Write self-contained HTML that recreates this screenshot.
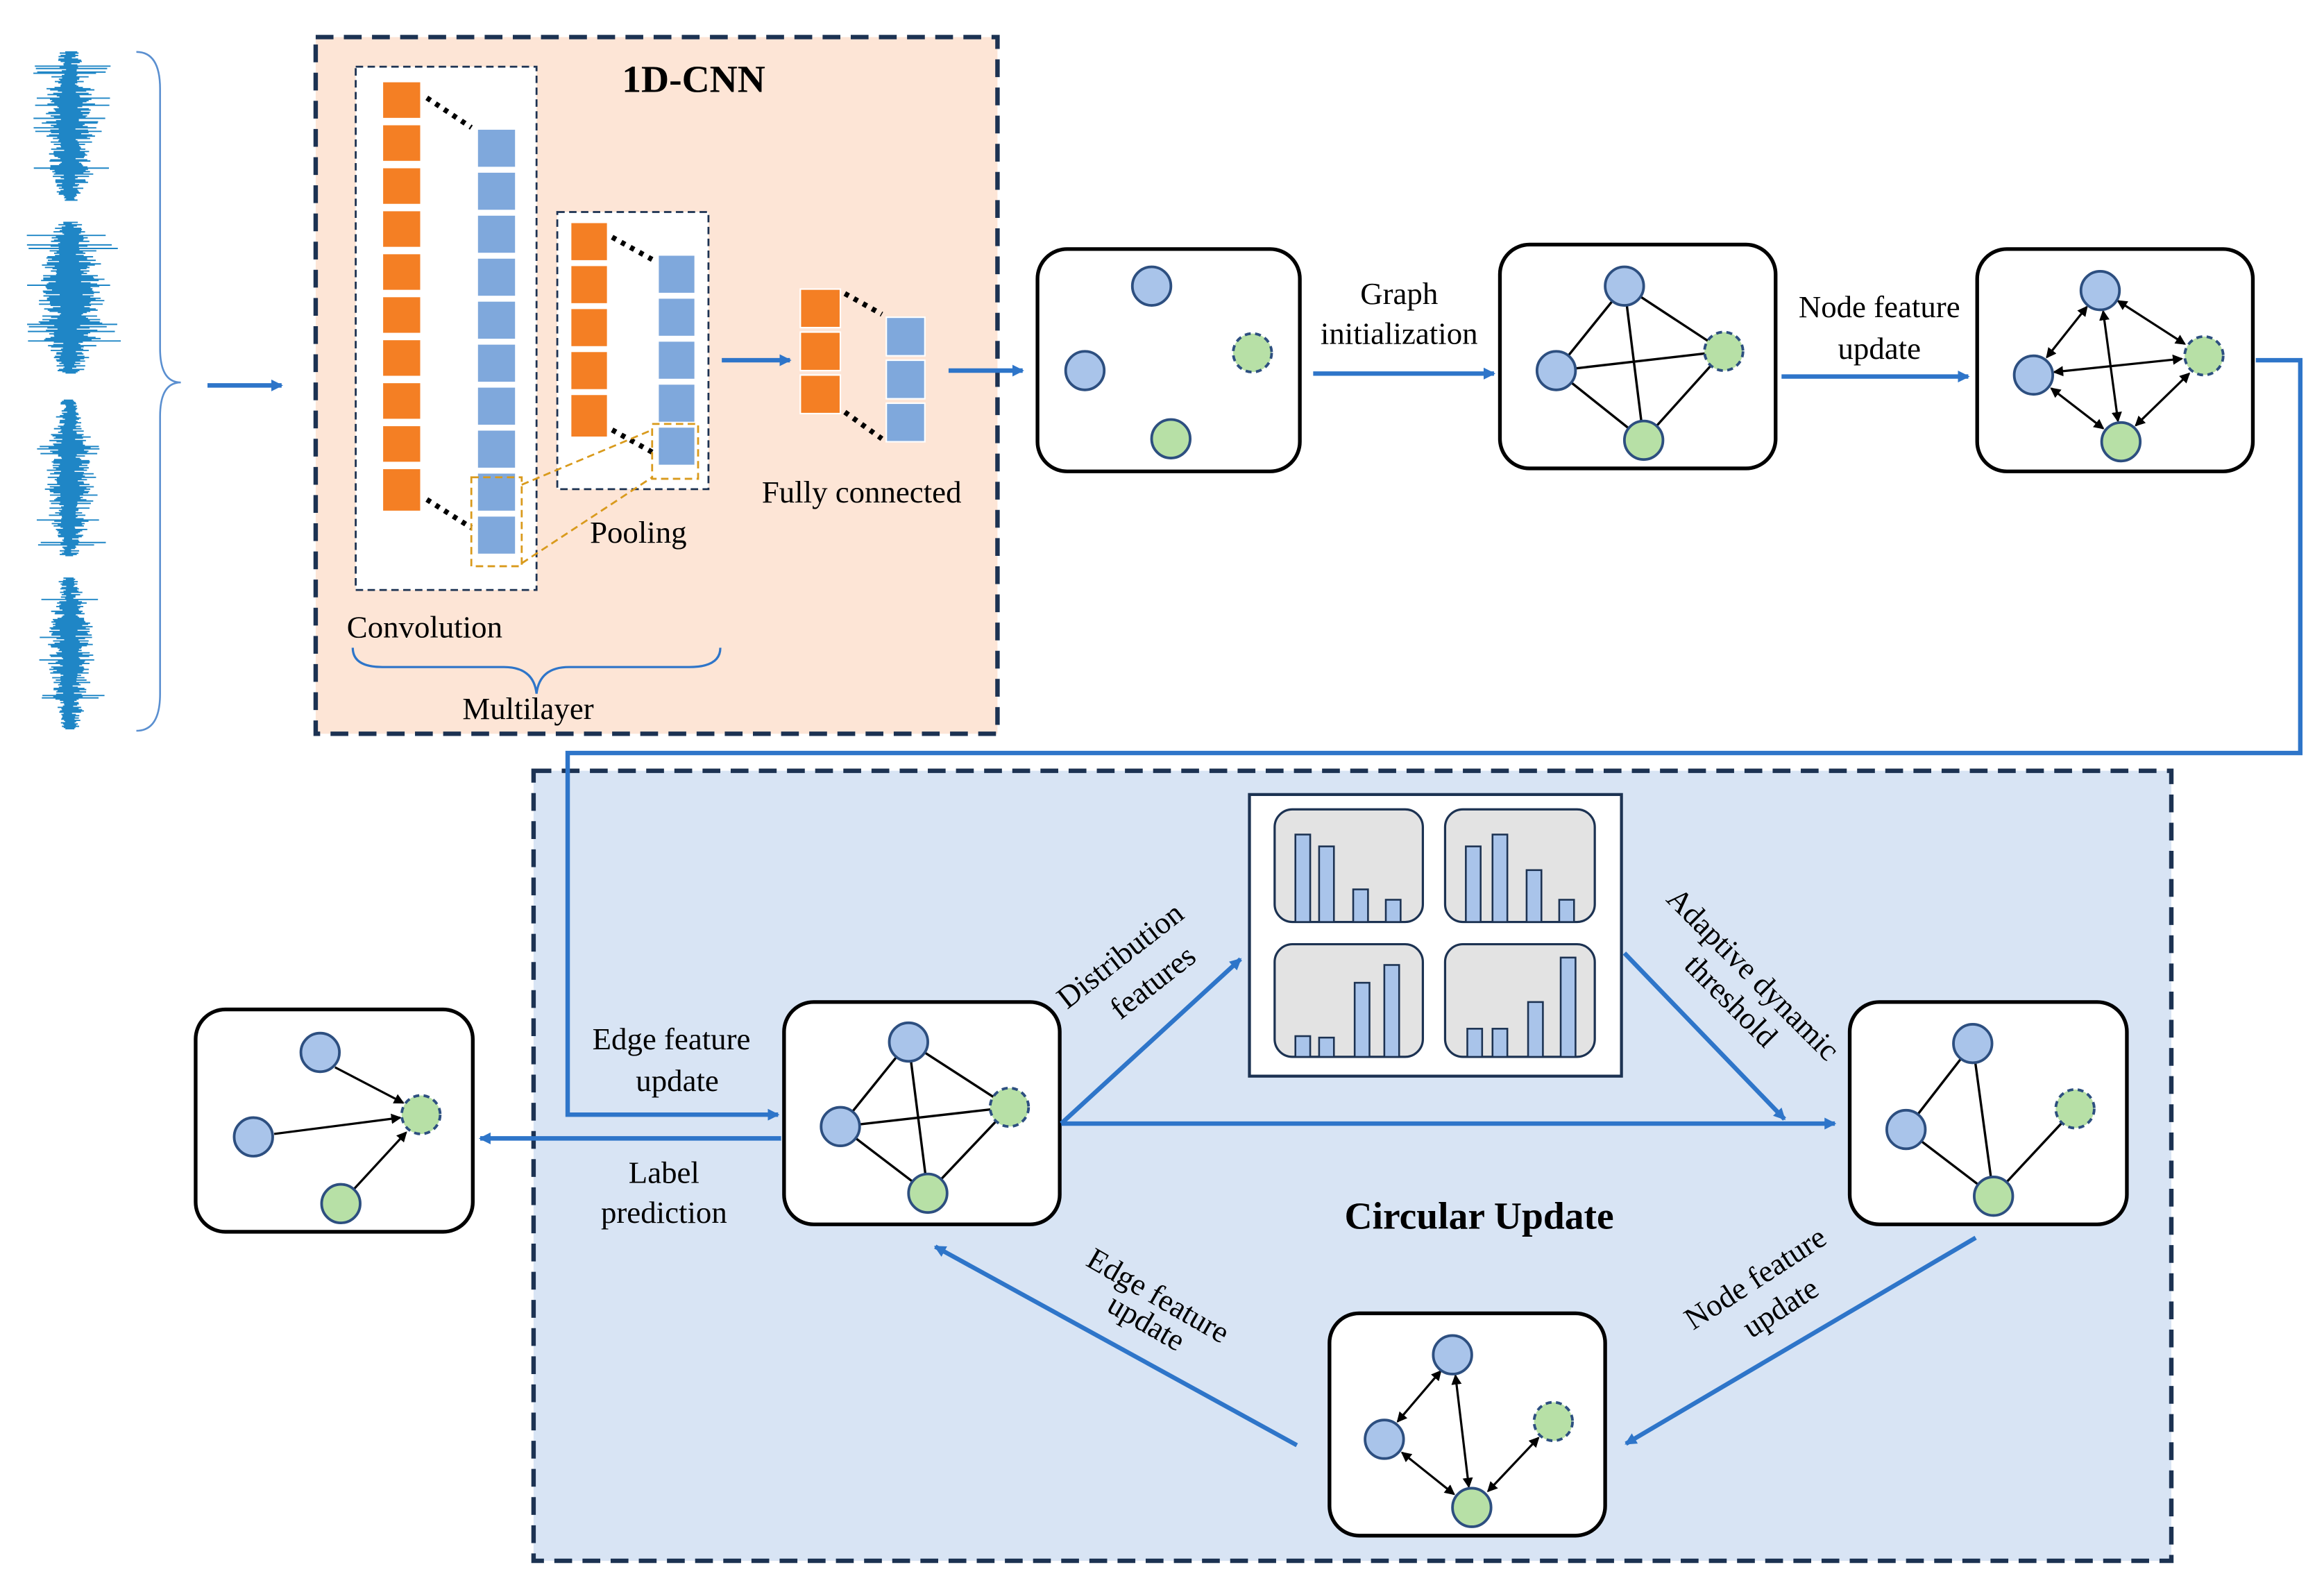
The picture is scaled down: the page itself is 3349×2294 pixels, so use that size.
<!DOCTYPE html>
<html><head><meta charset="utf-8"><style>html,body{margin:0;padding:0;background:#fff}svg{display:block}text{font-family:"Liberation Serif",serif}</style></head><body>
<svg width="3349" height="2294" viewBox="0 0 1568 1074" xmlns="http://www.w3.org/2000/svg">
<defs>
<marker id="ab" markerWidth="8" markerHeight="8" refX="7" refY="4" orient="auto" markerUnits="userSpaceOnUse"><path d="M0,0 L8,4 L0,8 Z" fill="#2e75c9"/></marker>
<marker id="ak" markerWidth="7" markerHeight="7" refX="6" refY="3.5" orient="auto-start-reverse" markerUnits="userSpaceOnUse"><path d="M0,0 L7,3.5 L0,7 Z" fill="#000"/></marker>
</defs>
<!-- waveforms -->
<g id="waves" fill="none" stroke="#1f86c6" stroke-width="1"></g>
<path d="M92,35 Q108,35 108,60 L108,235 Q108,258 122,258 Q108,258 108,281 L108,468 Q108,493 92,493" fill="none" stroke="#5a8fd0" stroke-width="1.2"/>
<g stroke="#2e75c9" stroke-width="3" fill="none">
<line x1="140" y1="260" x2="190" y2="260" marker-end="url(#ab)"/>
</g>
<!-- 1D-CNN box -->
<rect x="213" y="25" width="460" height="470" fill="#fde5d6" stroke="#1c3252" stroke-width="3" stroke-dasharray="12,7"/>
<text x="468" y="62" font-size="26" font-weight="bold" text-anchor="middle">1D-CNN</text>
<rect x="240" y="45" width="122" height="353" fill="#fff" stroke="#1c3252" stroke-width="1.3" stroke-dasharray="5,3"/>
<rect x="376" y="143" width="102" height="187" fill="#fff" stroke="#1c3252" stroke-width="1.3" stroke-dasharray="5,3"/>
<g fill="#f47f24" stroke="#fff" stroke-width="1">
<rect x="258" y="55" width="26" height="25"/><rect x="258" y="84" width="26" height="25"/><rect x="258" y="113" width="26" height="25"/><rect x="258" y="142" width="26" height="25"/><rect x="258" y="171" width="26" height="25"/><rect x="258" y="200" width="26" height="25"/><rect x="258" y="229" width="26" height="25"/><rect x="258" y="258" width="26" height="25"/><rect x="258" y="287" width="26" height="25"/><rect x="258" y="316" width="26" height="29"/>
<rect x="385" y="150" width="25" height="26"/><rect x="385" y="179" width="25" height="26"/><rect x="385" y="208" width="25" height="26"/><rect x="385" y="237" width="25" height="26"/><rect x="385" y="266" width="25" height="29"/>
<rect x="540" y="195" width="27" height="26"/><rect x="540" y="224" width="27" height="26"/><rect x="540" y="253" width="27" height="26"/>
</g>
<g fill="#7fa8dc" stroke="#fff" stroke-width="1">
<rect x="322" y="87" width="26" height="26"/><rect x="322" y="116" width="26" height="26"/><rect x="322" y="145" width="26" height="26"/><rect x="322" y="174" width="26" height="26"/><rect x="322" y="203" width="26" height="26"/><rect x="322" y="232" width="26" height="26"/><rect x="322" y="261" width="26" height="26"/><rect x="322" y="290" width="26" height="26"/><rect x="322" y="319" width="26" height="26"/><rect x="322" y="348" width="26" height="26"/>
<rect x="444" y="172" width="25" height="26"/><rect x="444" y="201" width="25" height="26"/><rect x="444" y="230" width="25" height="26"/><rect x="444" y="259" width="25" height="26"/><rect x="444" y="288" width="25" height="26"/>
<rect x="598" y="214" width="26" height="26"/><rect x="598" y="243" width="26" height="26"/><rect x="598" y="272" width="26" height="26"/>
</g>
<g stroke="#000" stroke-width="3.5" stroke-dasharray="3,4">
<line x1="288" y1="66" x2="318" y2="86"/><line x1="288" y1="337" x2="318" y2="356"/>
<line x1="413" y1="160" x2="440" y2="175"/><line x1="413" y1="290" x2="440" y2="305"/>
<line x1="570" y1="198" x2="595" y2="212"/><line x1="570" y1="278" x2="595" y2="296"/>
</g>
<g stroke="#d99a1c" stroke-width="1.3" fill="none" stroke-dasharray="5,3">
<rect x="318" y="322" width="34" height="60"/><rect x="440" y="286" width="31" height="37"/>
<line x1="352" y1="327" x2="440" y2="290"/><line x1="352" y1="380" x2="440" y2="322"/>
</g>
<path d="M238,437 Q238,450 258,450 L340,450 Q360,450 362,468 Q364,450 384,450 L465,450 Q486,450 486,437" fill="none" stroke="#2e75c9" stroke-width="1.5"/>
<g font-size="21">
<text x="234" y="430">Convolution</text>
<text x="398" y="366">Pooling</text>
<text x="514" y="339">Fully connected</text>
<text x="312" y="485">Multilayer</text>
</g>
<g stroke="#2e75c9" stroke-width="3" fill="none">
<line x1="487" y1="243" x2="533" y2="243" marker-end="url(#ab)"/>
<line x1="640" y1="250" x2="690" y2="250" marker-end="url(#ab)"/>
<line x1="886" y1="252" x2="1008" y2="252" marker-end="url(#ab)"/>
<line x1="1202" y1="254" x2="1328" y2="254" marker-end="url(#ab)"/>
</g>
<g font-size="21" text-anchor="middle">
<text x="944" y="205">Graph</text><text x="944" y="232">initialization</text>
<text x="1268" y="214">Node feature</text><text x="1268" y="242">update</text>
</g>
<!-- blue panel -->
<rect x="360" y="520" width="1105" height="533" fill="#d8e4f4" stroke="#1c3252" stroke-width="3" stroke-dasharray="12,7"/>
<polyline points="1522,243 1552,243 1552,508 383,508 383,752 525,752" fill="none" stroke="#2e75c9" stroke-width="3" marker-end="url(#ab)"/>
<g fill="#fff" stroke="#000" stroke-width="2.5">
<rect x="700" y="168" width="177" height="150" rx="20"/>
<rect x="1012" y="165" width="186" height="151" rx="20"/>
<rect x="1334" y="168" width="186" height="150" rx="20"/>
<rect x="132" y="681" width="187" height="150" rx="20"/>
<rect x="529" y="676" width="186" height="150" rx="20"/>
<rect x="1248" y="676" width="187" height="150" rx="20"/>
<rect x="897" y="886" width="186" height="150" rx="20"/>
</g>
<g stroke="#000" stroke-width="1.6" fill="none">
<path d="M1096,193L1050,250M1096,193L1163,237M1096,193L1109,297M1050,250L1163,237M1050,250L1109,297M1163,237L1109,297"/>
<path d="M613,703L567,760M613,703L681,747M613,703L626,805M567,760L681,747M567,760L626,805M681,747L626,805"/>
<path d="M1331,704L1286,762M1331,704L1345,807M1286,762L1345,807M1345,807L1400,748"/>
</g>
<g stroke="#000" stroke-width="1.5" fill="none" marker-start="url(#ak)" marker-end="url(#ak)">
<line x1="1408" y1="207" x2="1381" y2="241"/><line x1="1429" y1="203" x2="1474" y2="232"/><line x1="1419" y1="210" x2="1429" y2="284"/>
<line x1="1386" y1="251" x2="1472" y2="242"/><line x1="1384" y1="262" x2="1419" y2="289"/><line x1="1477" y1="252" x2="1441" y2="287"/>
<line x1="972" y1="925" x2="943" y2="959"/><line x1="982" y1="928" x2="991" y2="1003"/><line x1="946" y1="980" x2="981" y2="1008"/><line x1="1004" y1="1006" x2="1038" y2="970"/>
</g>
<g stroke="#000" stroke-width="1.5" marker-end="url(#ak)">
<line x1="226" y1="720" x2="272" y2="744"/><line x1="185" y1="765" x2="270" y2="754"/><line x1="239" y1="802" x2="274" y2="764"/>
</g>
<g stroke="#2d4f80" stroke-width="1.8">
<g fill="#a9c4ea">
<circle cx="777" cy="193" r="13"/><circle cx="732" cy="250" r="13"/>
<circle cx="1096" cy="193" r="13"/><circle cx="1050" cy="250" r="13"/>
<circle cx="1417" cy="196" r="13"/><circle cx="1372" cy="253" r="13"/>
<circle cx="216" cy="710" r="13"/><circle cx="171" cy="767" r="13"/>
<circle cx="613" cy="703" r="13"/><circle cx="567" cy="760" r="13"/>
<circle cx="1331" cy="704" r="13"/><circle cx="1286" cy="762" r="13"/>
<circle cx="980" cy="914" r="13"/><circle cx="934" cy="971" r="13"/>
</g>
<g fill="#b7e0a6">
<circle cx="790" cy="296" r="13"/><circle cx="1109" cy="297" r="13"/><circle cx="1431" cy="298" r="13"/>
<circle cx="230" cy="812" r="13"/><circle cx="626" cy="805" r="13"/><circle cx="1345" cy="807" r="13"/><circle cx="993" cy="1017" r="13"/>
</g>
<g fill="#b7e0a6" stroke-dasharray="4,3">
<circle cx="845" cy="238" r="13"/><circle cx="1163" cy="237" r="13"/><circle cx="1487" cy="240" r="13"/>
<circle cx="284" cy="752" r="13"/><circle cx="681" cy="747" r="13"/><circle cx="1400" cy="748" r="13"/><circle cx="1048" cy="959" r="13"/>
</g>
</g>
<rect x="843" y="536" width="251" height="190" fill="#fff" stroke="#1c3252" stroke-width="2"/>
<g fill="#e3e3e3" stroke="#1c3252" stroke-width="1.5">
<rect x="860" y="546" width="100" height="76" rx="12"/><rect x="975" y="546" width="101" height="76" rx="12"/>
<rect x="860" y="637" width="100" height="76" rx="12"/><rect x="975" y="637" width="101" height="76" rx="12"/>
</g>
<g fill="#a9c4ea" stroke="#1c3252" stroke-width="1.2">
<rect x="874" y="563" width="10" height="59"/><rect x="890" y="571" width="10" height="51"/><rect x="913" y="600" width="10" height="22"/><rect x="935" y="607" width="10" height="15"/>
<rect x="989" y="571" width="10" height="51"/><rect x="1007" y="563" width="10" height="59"/><rect x="1030" y="587" width="10" height="35"/><rect x="1052" y="607" width="10" height="15"/>
<rect x="874" y="699" width="10" height="14"/><rect x="890" y="700" width="10" height="13"/><rect x="914" y="663" width="10" height="50"/><rect x="934" y="651" width="10" height="62"/>
<rect x="990" y="694" width="10" height="19"/><rect x="1007" y="694" width="10" height="19"/><rect x="1031" y="676" width="10" height="37"/><rect x="1053" y="646" width="10" height="67"/>
</g>
<g stroke="#2e75c9" stroke-width="3" fill="none">
<line x1="716" y1="758" x2="1238" y2="758" marker-end="url(#ab)"/>
<line x1="716" y1="758" x2="837" y2="647" marker-end="url(#ab)"/>
<line x1="1096" y1="643" x2="1204" y2="755" marker-end="url(#ab)"/>
<line x1="1333" y1="835" x2="1097" y2="974" marker-end="url(#ab)"/>
<line x1="875" y1="975" x2="631" y2="841" marker-end="url(#ab)"/>
<line x1="527" y1="768" x2="324" y2="768" marker-end="url(#ab)"/>
</g>
<g font-size="21" text-anchor="middle">
<text x="453" y="708">Edge feature</text><text x="457" y="736">update</text>
<text x="448" y="798">Label</text><text x="448" y="825">prediction</text>
<text transform="translate(760,650) rotate(-38)">Distribution</text>
<text transform="translate(782,668) rotate(-38)">features</text>
<text transform="translate(1178,662) rotate(45)">Adaptive dynamic</text>
<text transform="translate(1163,680) rotate(45)">threshold</text>
<text transform="translate(778,880) rotate(30)">Edge feature</text>
<text transform="translate(770,898) rotate(30)">update</text>
<text transform="translate(1188,868) rotate(-33)">Node feature</text>
<text transform="translate(1205,888) rotate(-33)">update</text>
</g>
<text x="998" y="829" font-size="26" font-weight="bold" text-anchor="middle">Circular Update</text>
</svg>
<script>
(function(){
var g=document.getElementById('waves');var seed=7;function r(){seed=(seed*9301+49275)%233280;return seed/233280;}
var segs=[[35,135,18],[150,252,22],[270,375,16],[390,492,15]];var d='';
segs.forEach(function(s){for(var y=s[0];y<=s[1];y+=0.8){var t=(y-s[0])/(s[1]-s[0]);var env=s[2]*(0.35+0.65*Math.sin(Math.PI*t));var a=env*(0.3+0.7*r());if(r()<0.08)a=s[2]*1.3;var c=47+(r()-0.5)*3;d+='M'+(c-a).toFixed(1)+','+y.toFixed(1)+'H'+(c+a*(0.8+0.4*r())).toFixed(1);}});
var p=document.createElementNS('http://www.w3.org/2000/svg','path');p.setAttribute('d',d);p.setAttribute('stroke-width','0.9');g.appendChild(p);
})();
</script>
</body></html>
